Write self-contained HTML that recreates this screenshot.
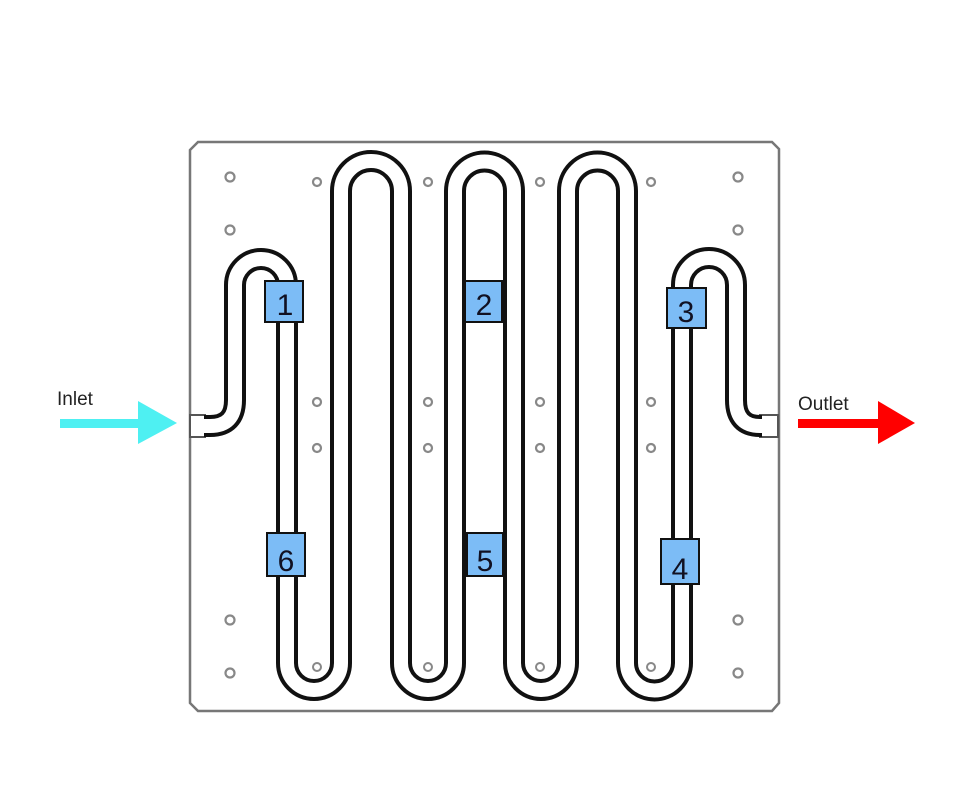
<!DOCTYPE html>
<html><head><meta charset="utf-8"><style>
html,body{margin:0;padding:0;background:#fff;}
svg{display:block;}
</style></head><body>
<svg width="960" height="796" viewBox="0 0 960 796" xmlns="http://www.w3.org/2000/svg">
<rect width="960" height="796" fill="#fff"/>
<!-- plate -->
<path d="M198,142 L772,142 L779,149 L779,703 L772,711 L198,711 L190,703 L190,150 Z" fill="#fff" stroke="#777" stroke-width="2.5"/>
<!-- holes -->
<g fill="#fff" stroke="#888" stroke-width="2.2">
<circle cx="230" cy="177" r="4.5"/><circle cx="230" cy="230" r="4.5"/>
<circle cx="738" cy="177" r="4.5"/><circle cx="738" cy="230" r="4.5"/>
<circle cx="317" cy="182" r="4"/><circle cx="428" cy="182" r="4"/><circle cx="540" cy="182" r="4"/><circle cx="651" cy="182" r="4"/>
<circle cx="317" cy="402" r="4"/><circle cx="428" cy="402" r="4"/><circle cx="540" cy="402" r="4"/><circle cx="651" cy="402" r="4"/>
<circle cx="317" cy="448" r="4"/><circle cx="428" cy="448" r="4"/><circle cx="540" cy="448" r="4"/><circle cx="651" cy="448" r="4"/>
<circle cx="230" cy="620" r="4.5"/><circle cx="230" cy="673" r="4.5"/>
<circle cx="738" cy="620" r="4.5"/><circle cx="738" cy="673" r="4.5"/>
</g>
<!-- ports -->
<rect x="190" y="415" width="15" height="22" fill="#fff" stroke="#555" stroke-width="2"/>
<rect x="760" y="415" width="18" height="22" fill="#fff" stroke="#555" stroke-width="2"/>
<!-- pipe -->
<path id="pipe" d="M204,426 L210,426 Q235,426 235,400 L235,285 A26,26 0 0 1 287,285 L287,663 A27,27 0 0 0 341,663 L341,191 A30,30 0 0 1 401,191 L401,663 A27,27 0 0 0 455,663 L455,191 A29.5,29.5 0 0 1 514,191 L514,663 A27,27 0 0 0 568,663 L568,191 A29.5,29.5 0 0 1 627,191 L627,663 A27.5,27.5 0 0 0 682,663 L682,285 A27,27 0 0 1 736,285 L736,400 Q736,426 760,426 L762,426" fill="none" stroke="#111" stroke-width="22"/>
<path d="M204,426 L210,426 Q235,426 235,400 L235,285 A26,26 0 0 1 287,285 L287,663 A27,27 0 0 0 341,663 L341,191 A30,30 0 0 1 401,191 L401,663 A27,27 0 0 0 455,663 L455,191 A29.5,29.5 0 0 1 514,191 L514,663 A27,27 0 0 0 568,663 L568,191 A29.5,29.5 0 0 1 627,191 L627,663 A27.5,27.5 0 0 0 682,663 L682,285 A27,27 0 0 1 736,285 L736,400 Q736,426 760,426 L762,426" fill="none" stroke="#fff" stroke-width="14"/>
<g fill="#fff" stroke="#888" stroke-width="2"><circle cx="317" cy="667" r="4"/><circle cx="428" cy="667" r="4"/><circle cx="540" cy="667" r="4"/><circle cx="651" cy="667" r="4"/></g>
<!-- sensors -->
<g fill="#7cbcf6" stroke="#111" stroke-width="2">
<rect x="265" y="281" width="38" height="41"/>
<rect x="465" y="281" width="37" height="41"/>
<rect x="667" y="288" width="39" height="40"/>
<rect x="267" y="533" width="38" height="43"/>
<rect x="467" y="533" width="36" height="43"/>
<rect x="661" y="539" width="38" height="45"/>
</g>
<g font-family="Liberation Sans, sans-serif" font-size="30" fill="#112" text-anchor="middle">
<text x="285" y="315">1</text><text x="484" y="315">2</text><text x="686" y="322">3</text>
<text x="286" y="571">6</text><text x="485" y="571">5</text><text x="680" y="579">4</text>
</g>
<!-- arrows -->
<rect x="60" y="419" width="80" height="9" fill="#4ef0f2"/>
<polygon points="138,401 177,423 138,444" fill="#4ef0f2"/>
<rect x="798" y="419" width="82" height="9" fill="#ff0000"/>
<polygon points="878,401 915,423 878,444" fill="#ff0000"/>
<g font-family="Liberation Sans, sans-serif" font-size="19" fill="#222">
<text x="57" y="405">Inlet</text>
<text x="798" y="410">Outlet</text>
</g>
</svg>
</body></html>
